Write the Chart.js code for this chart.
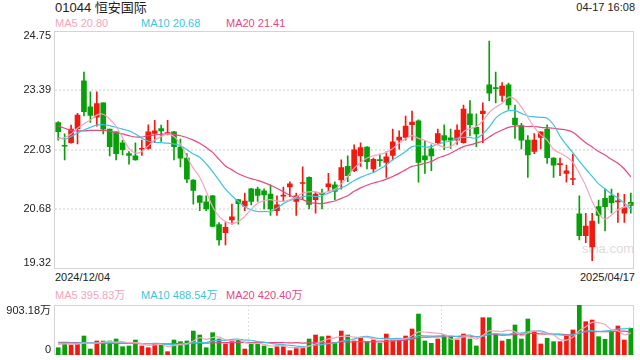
<!DOCTYPE html>
<html><head><meta charset="utf-8">
<script src="https://cdn.jsdelivr.net/npm/chart.js@4/dist/chart.umd.min.js"></script>
<style>
html,body{margin:0;padding:0;background:#fff}
body{width:640px;height:360px;overflow:hidden;position:relative;font-family:"Liberation Sans",Arial,"Noto Sans CJK SC",sans-serif}
.t{position:absolute;white-space:nowrap;font-size:11px;line-height:13px;color:#333}
canvas{position:absolute;left:0}
</style></head><body>
<div class="t" style="left:55px;top:0px;font-size:13px;line-height:15px;color:#222;font-family:'Liberation Sans','Noto Sans CJK SC',sans-serif">01044 恒安国际</div>
<div class="t" style="right:5px;top:1px;color:#222">04-17 16:08</div>
<div class="t" id="lg5" style="left:55px;top:17px"></div>
<div class="t" id="lg10" style="left:141px;top:17px"></div>
<div class="t" id="lg20" style="left:226px;top:17px"></div>
<div class="t" id="d0" style="left:55px;top:271px;color:#222"></div>
<div class="t" id="d1" style="right:5px;top:271px;color:#222"></div>
<div class="t" id="vg5" style="left:55px;top:289px"></div>
<div class="t" id="vg10" style="left:141px;top:289px"></div>
<div class="t" id="vg20" style="left:226px;top:289px"></div>
<div class="t" style="left:582px;top:241px;font-size:13px;line-height:15px;color:#dcdcdc">sina.com</div>
<canvas id="c1" width="640" height="285" style="top:0"></canvas>
<canvas id="c2" width="640" height="70" style="top:290px"></canvas>
<script>
const dates = ["2024/12/04","2024/12/05","2024/12/06","2024/12/09","2024/12/10","2024/12/11","2024/12/12","2024/12/13","2024/12/16","2024/12/17","2024/12/18","2024/12/19","2024/12/20","2024/12/23","2024/12/24","2024/12/27","2024/12/30","2024/12/31",
"2025/01/02","2025/01/03","2025/01/06","2025/01/07","2025/01/08","2025/01/09","2025/01/10","2025/01/13","2025/01/14","2025/01/15","2025/01/16","2025/01/17","2025/01/20","2025/01/21","2025/01/22","2025/01/23","2025/01/24","2025/01/27","2025/01/28",
"2025/02/03","2025/02/04","2025/02/05","2025/02/06","2025/02/07","2025/02/10","2025/02/11","2025/02/12","2025/02/13","2025/02/14","2025/02/17","2025/02/18","2025/02/19","2025/02/20","2025/02/21","2025/02/24","2025/02/25","2025/02/26","2025/02/27","2025/02/28",
"2025/03/03","2025/03/04","2025/03/05","2025/03/06","2025/03/07","2025/03/10","2025/03/11","2025/03/12","2025/03/13","2025/03/14","2025/03/17","2025/03/18","2025/03/19","2025/03/20","2025/03/21","2025/03/24","2025/03/25","2025/03/26","2025/03/27","2025/03/28","2025/03/31",
"2025/04/01","2025/04/02","2025/04/03","2025/04/07","2025/04/08","2025/04/09","2025/04/10","2025/04/11","2025/04/14","2025/04/15","2025/04/16","2025/04/17"];

const opens = [22.65,22.13,22.19,22.51,23.60,23.01,22.77,23.10,22.50,22.44,22.19,21.94,21.89,22.04,22.06,22.40,22.51,22.40,22.44,22.09,21.84,21.34,20.98,20.84,20.98,20.32,20.14,20.43,20.89,20.74,21.14,21.13,21.09,21.02,20.64,20.97,21.18,20.85,21.26,21.40,20.89,21.03,21.18,21.23,21.34,21.65,21.55,21.89,22.09,21.59,21.80,21.74,21.90,22.25,22.31,22.60,22.69,21.89,22.05,22.19,22.35,22.30,22.25,22.19,22.85,22.54,22.85,23.51,23.45,23.27,23.51,22.75,22.58,22.25,21.99,22.31,22.50,21.84,21.69,21.49,21.35,20.57,20.07,19.81,20.73,20.92,20.98,20.84,20.58,20.83];
const highs = [22.67,22.39,22.59,22.86,23.80,23.35,23.35,23.10,22.50,22.44,22.25,21.99,22.19,22.25,22.60,22.70,22.59,22.70,22.45,22.27,21.94,21.35,20.99,20.98,20.99,20.37,20.37,20.79,20.90,21.04,21.15,21.18,21.14,21.23,20.98,21.18,21.30,21.04,21.64,21.41,21.07,21.13,21.49,21.30,21.80,21.89,22.14,22.19,22.10,21.84,21.93,21.98,22.50,22.46,22.80,22.91,22.71,22.23,22.14,22.50,22.60,22.50,22.60,23.05,23.15,22.85,23.10,24.51,23.80,23.56,23.55,23.05,22.63,22.35,22.40,22.44,22.60,21.85,21.84,21.68,21.93,20.98,20.58,20.58,20.88,21.13,21.13,21.04,21.01,21.04];
const lows = [22.25,21.80,22.18,22.16,22.80,22.65,22.57,22.39,21.89,21.80,21.91,21.70,21.79,21.90,22.04,22.19,22.22,22.37,21.80,21.64,21.28,20.79,20.64,20.64,20.27,19.85,19.86,20.33,20.33,20.64,20.77,20.85,20.68,20.53,20.53,20.85,20.96,20.53,20.89,20.68,20.58,20.68,21.09,20.89,21.13,21.30,21.53,21.65,21.59,21.51,21.65,21.40,21.80,22.04,22.25,22.25,21.29,21.49,21.55,22.15,22.03,22.06,22.15,22.18,22.35,22.10,22.19,23.15,23.10,23.13,22.95,22.29,22.05,21.40,21.94,22.05,21.72,21.40,21.44,21.29,21.23,19.97,19.91,19.50,20.35,20.18,20.58,20.37,20.37,20.58];
const closes = [22.44,22.11,22.50,22.82,22.90,22.81,23.08,22.50,22.10,21.94,22.03,21.90,21.80,22.05,22.44,22.46,22.46,22.42,22.10,21.84,21.36,21.10,20.83,20.68,20.28,19.97,20.26,20.50,20.80,20.86,20.85,20.99,21.00,20.68,20.77,20.98,21.25,20.98,21.27,20.78,21.02,21.01,21.25,21.08,21.62,21.44,22.03,22.08,21.76,21.81,21.78,21.87,22.21,22.32,22.57,22.66,21.74,21.80,21.89,22.40,22.25,22.25,22.48,22.96,22.60,22.39,22.91,23.32,23.42,23.48,23.05,22.60,22.25,21.91,22.25,22.44,21.85,21.68,21.70,21.55,21.36,20.07,20.29,20.40,20.53,20.73,20.82,20.85,20.71,20.76];

const ma5 = [22.28,22.31,22.39,22.52,22.62,22.71,22.82,22.84,22.73,22.56,22.31,22.06,21.95,21.99,22.12,22.25,22.33,22.39,22.33,22.16,21.87,21.61,21.40,21.08,20.73,20.51,20.39,20.35,20.39,20.51,20.67,20.81,20.87,20.89,20.86,20.85,20.89,20.95,21.04,21.07,21.07,21.04,21.08,21.13,21.25,21.42,21.61,21.74,21.84,21.89,21.92,21.97,22.06,22.18,22.28,22.35,22.29,22.24,22.18,22.14,22.09,22.10,22.22,22.44,22.51,22.56,22.69,22.88,23.00,23.09,23.23,23.18,23.00,22.77,22.54,22.37,22.25,22.04,21.95,21.87,21.74,21.49,21.21,20.85,20.58,20.45,20.54,20.66,20.72,20.80];
const ma10 = [22.31,22.27,22.33,22.41,22.48,22.54,22.59,22.60,22.58,22.54,22.50,22.46,22.39,22.29,22.23,22.20,22.19,22.18,22.16,22.12,22.03,21.93,21.86,21.71,21.53,21.33,21.13,20.98,20.85,20.73,20.66,20.62,20.62,20.62,20.70,20.80,20.87,20.92,20.96,20.98,20.96,20.98,21.04,21.10,21.16,21.23,21.33,21.40,21.46,21.51,21.59,21.68,21.80,21.89,21.99,22.10,22.12,22.09,22.10,22.16,22.20,22.23,22.29,22.31,22.31,22.29,22.39,22.55,22.75,22.86,22.92,22.92,22.86,22.80,22.78,22.77,22.75,22.60,22.34,22.14,21.96,21.77,21.59,21.42,21.25,21.14,21.02,20.93,20.81,20.68];
const ma20 = [22.57,22.52,22.47,22.46,22.46,22.47,22.47,22.47,22.45,22.42,22.39,22.35,22.32,22.32,22.35,22.37,22.38,22.39,22.38,22.35,22.31,22.25,22.18,22.08,21.97,21.81,21.66,21.57,21.48,21.42,21.37,21.33,21.28,21.22,21.15,21.07,20.99,20.93,20.89,20.83,20.81,20.80,20.83,20.86,20.92,20.98,21.08,21.16,21.22,21.27,21.31,21.36,21.42,21.49,21.57,21.65,21.68,21.72,21.76,21.84,21.89,21.95,22.03,22.10,22.14,22.18,22.23,22.32,22.41,22.48,22.54,22.57,22.57,22.56,22.56,22.54,22.53,22.52,22.50,22.48,22.43,22.31,22.19,22.09,21.99,21.91,21.81,21.72,21.59,21.41];

const volumes = [132,223,181,199,343,108,253,253,253,289,150,163,271,163,132,193,199,60,271,241,253,433,361,132,403,289,199,253,271,108,211,211,163,120,150,163,78,132,132,289,361,331,343,223,433,361,253,313,241,271,211,379,271,271,343,470,740,253,211,289,361,331,271,379,289,163,674,674,361,253,283,542,289,650,421,199,301,241,241,361,452,903.18,602,632,331,283,421,524,271,482];
const volMa5 = [190,200,195,198,216,211,217,231,242,231,240,222,225,207,176,184,192,149,171,193,205,252,312,284,316,324,277,255,283,224,208,211,193,163,171,161,135,129,131,159,198,249,291,309,338,338,323,317,320,288,258,283,275,281,295,347,419,415,403,393,371,289,293,326,326,287,355,436,432,425,449,423,346,403,437,420,372,362,281,269,319,440,512,590,584,550,454,438,366,395.83];
const volMa10 = [215,216,214,213,222,218,220,222,224,223,219,213,215,206,204,209,206,187,189,184,194,221,229,225,255,265,265,284,286,270,266,243,232,211,198,186,175,163,149,165,176,188,206,216,249,269,287,323,335,313,298,303,296,301,291,302,351,345,342,344,346,342,338,349,359,328,342,378,387,376,375,396,398,425,431,435,398,370,365,353,362,392,433,442,426,434,446,470,473,488.54];
const volMa20 = [229,228,226,222,220,218,216,214,212,210,209,208,207,206,205,204,204,203,204,204,206,211,216,213,220,224,224,226,229,227,226,228,226,224,225,224,218,222,216,218,223,218,217,221,236,234,238,241,236,239,238,246,252,260,270,286,316,322,326,328,332,336,332,334,331,331,346,366,370,360,362,372,374,388,392,380,378,376,378,364,371,399,414,426,421,420,424,432,430,420.40];

const priceTicks = [19.32,20.68,22.03,23.39,24.75];
const volTicks = [0,903.18];
const maNames = ["MA5","MA10","MA20"];

const UP = "#f01a10", DOWN = "#08a00a";
const C5 = "#f7a3bd", C10 = "#3cc6e0", C20 = "#e8487f";
const colors = closes.map((c,i)=> c >= opens[i] ? UP : DOWN);

function setLegend(id, name, val, color, unit){
  const el = document.getElementById(id);
  el.textContent = name + " " + val + (unit||"");
  el.style.color = color;
}
setLegend("lg5", maNames[0], ma5[ma5.length-1].toFixed(2), C5);
setLegend("lg10", maNames[1], ma10[ma10.length-1].toFixed(2), C10);
setLegend("lg20", maNames[2], ma20[ma20.length-1].toFixed(2), C20);
setLegend("vg5", maNames[0], volMa5[volMa5.length-1].toFixed(2), C5, "万");
setLegend("vg10", maNames[1], volMa10[volMa10.length-1].toFixed(2), C10, "万");
setLegend("vg20", maNames[2], volMa20[volMa20.length-1].toFixed(2), C20, "万");
document.getElementById("d0").textContent = dates[0];
document.getElementById("d1").textContent = dates[dates.length-1];

const framePlugin = {
  id: "frame",
  beforeDatasetsDraw(chart, args, o){
    const {ctx, chartArea:a} = chart;
    const y = chart.scales.y;
    ctx.save();
    ctx.lineWidth = 1.5;
    ctx.strokeStyle = "#dedede";
    ctx.setLineDash([2,2]);
    (o.hLines||[]).forEach(v=>{
      const py = Math.round(y.getPixelForValue(v));
      ctx.beginPath(); ctx.moveTo(a.left, py); ctx.lineTo(a.right, py); ctx.stroke();
    });
    ctx.lineWidth = 1;
    ctx.setLineDash([2,2]);
    (o.vFrac||[]).forEach(f=>{
      const px = Math.round(a.left + a.width*f) + 0.5;
      ctx.beginPath(); ctx.moveTo(px, a.top); ctx.lineTo(px, a.bottom); ctx.stroke();
    });
    ctx.setLineDash([]);
    ctx.strokeStyle = "#d4d4d4";
    ctx.lineWidth = 1;
    ctx.strokeRect(Math.round(a.left)-0.5, Math.round(a.top)+0.5, Math.round(a.width), Math.round(a.height)-1);
    ctx.restore();
  },
  afterDraw(chart, args, o){
    const {ctx, chartArea:a} = chart;
    const y = chart.scales.y;
    ctx.save();
    ctx.font = "11px 'Liberation Sans', Arial, 'Noto Sans CJK SC', sans-serif";
    ctx.fillStyle = "#222";
    ctx.textAlign = "right";
    const n = o.labels.length;
    o.labels.forEach((v,i)=>{
      const py = y.getPixelForValue(v);
      ctx.textBaseline = i===n-1 ? "top" : (i===0 ? "bottom" : "middle");
      const off = i===n-1 ? 0 : (i===0 ? 0 : 0);
      ctx.fillText(o.fmt(v), a.left-4, py+off);
    });
    ctx.restore();
  }
};

const lineDs = (label, data, color) => ({type:"line", label, data, borderColor:color, borderWidth:1.2, pointRadius:0, tension:0.35, fill:false, order:0});

new Chart(document.getElementById("c1"), {
  type: "bar",
  data: {
    labels: dates,
    datasets: [
      lineDs("MA5", ma5, C5),
      lineDs("MA10", ma10, C10),
      lineDs("MA20", ma20, C20),
      {type:"bar", label:"body", data: opens.map((o,i)=>[o, closes[i]]), backgroundColor: colors, barThickness:5, minBarLength:1, grouped:false, order:5},
      {type:"bar", label:"wick", data: lows.map((l,i)=>[l, highs[i]]), backgroundColor: colors, barThickness:1, grouped:false, order:6}
    ]
  },
  options: {
    animation:false, responsive:false, events:[],
    layout:{padding:{left:55, right:6, top:30.5, bottom:16.5}},
    plugins:{legend:{display:false}, tooltip:{enabled:false},
      frame:{hLines:[20.68,22.03,23.39], labels:priceTicks, fmt:v=>v.toFixed(2)}},
    scales:{
      x:{display:false, offset:true},
      y:{display:false, min:priceTicks[0], max:priceTicks[priceTicks.length-1]}
    }
  },
  plugins:[framePlugin]
});

new Chart(document.getElementById("c2"), {
  type: "bar",
  data: {
    labels: dates,
    datasets: [
      lineDs("VMA5", volMa5, C5),
      lineDs("VMA10", volMa10, C10),
      lineDs("VMA20", volMa20, C20),
      {type:"bar", label:"vol", data: volumes, backgroundColor: colors, barThickness:4, grouped:false, order:5}
    ]
  },
  options: {
    animation:false, responsive:false, events:[],
    layout:{padding:{left:55, right:6, top:15, bottom:5}},
    plugins:{legend:{display:false}, tooltip:{enabled:false},
      frame:{vFrac:[1/3,2/3], labels:volTicks, fmt:v=> v===0 ? "0" : v.toFixed(2)+"万"}},
    scales:{
      x:{display:false, offset:true},
      y:{display:false, min:volTicks[0], max:volTicks[1]}
    }
  },
  plugins:[framePlugin]
});
</script>
</body></html>
